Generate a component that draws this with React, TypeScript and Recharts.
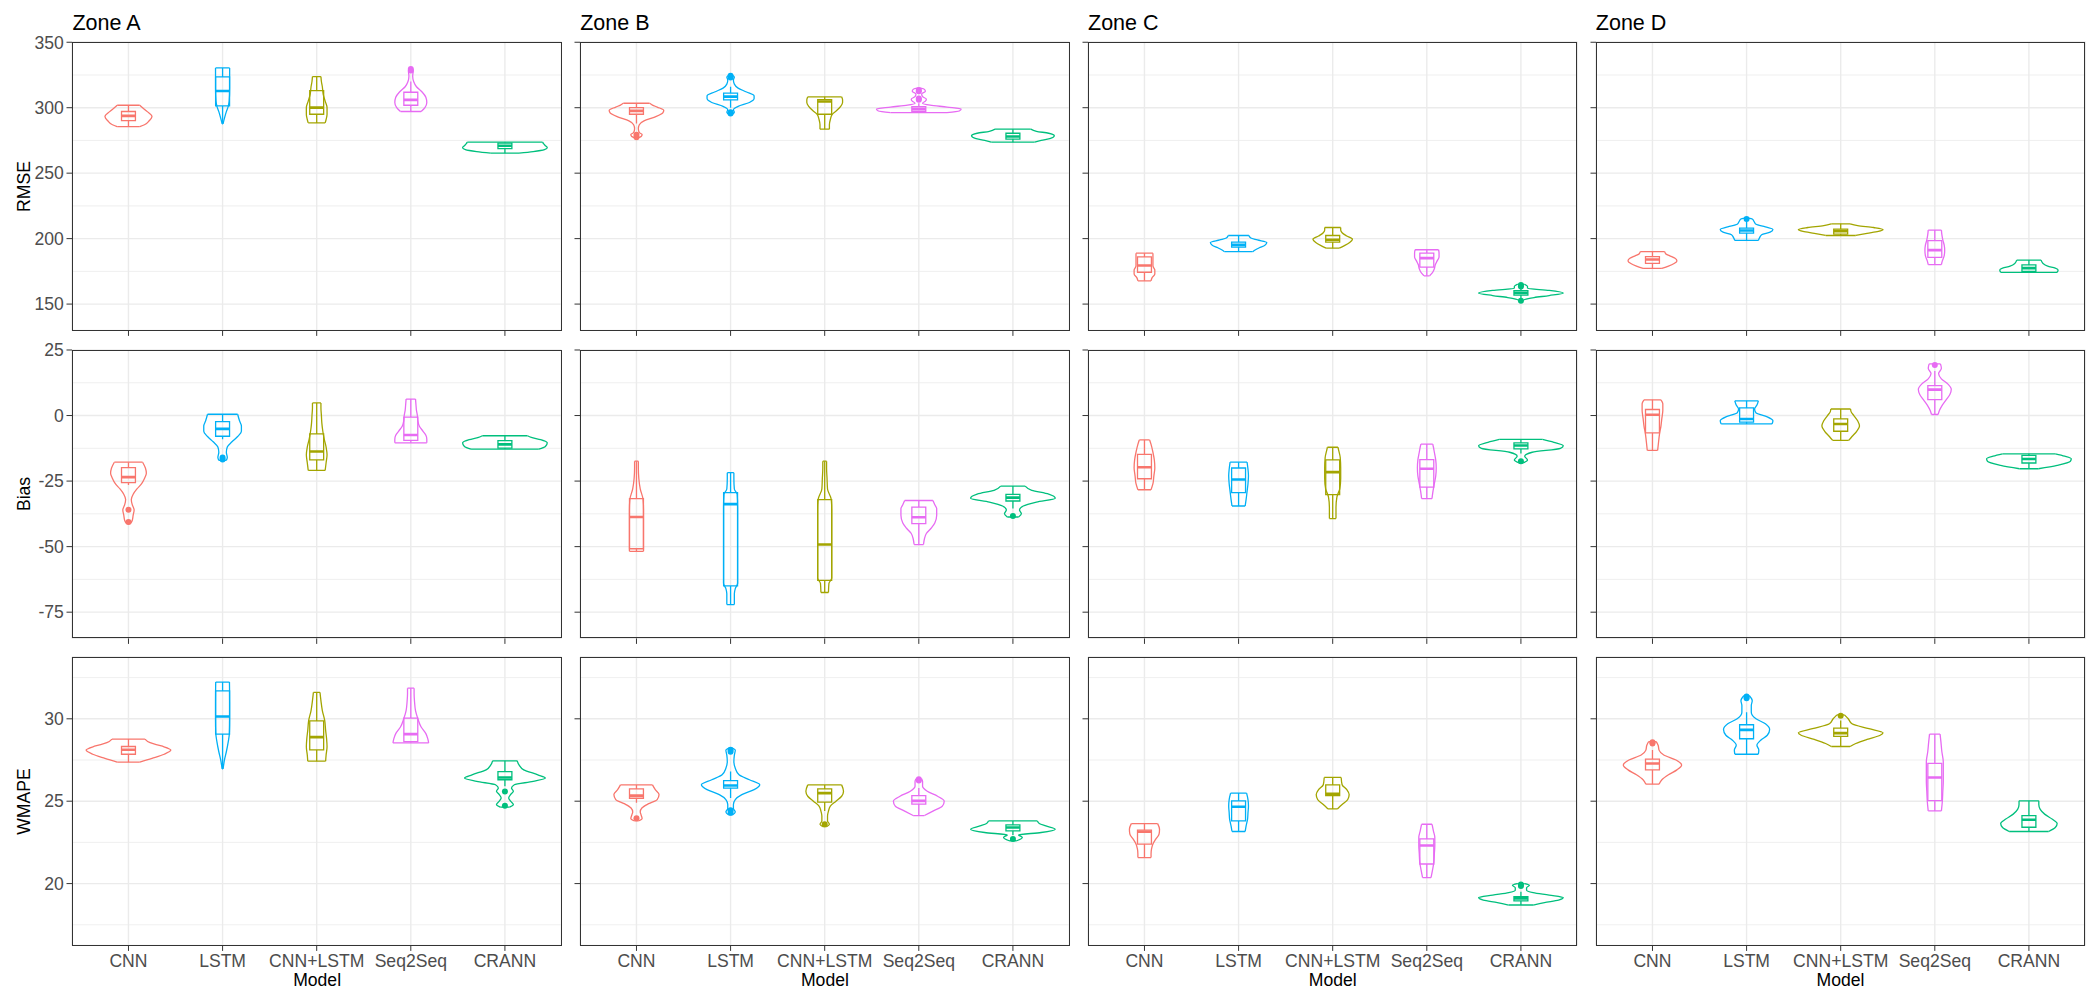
import { ComposedChart, Scatter, XAxis, YAxis, CartesianGrid, ReferenceLine } from "recharts";

const MODELS = ["CNN", "LSTM", "CNN+LSTM", "Seq2Seq", "CRANN"];
const COLORS = ["#F8766D", "#00B0F6", "#A3A500", "#E76BF3", "#00BF7D"];
const ZONES = ["Zone A", "Zone B", "Zone C", "Zone D"];
const METRICS = ["RMSE", "Bias", "WMAPE"];
const Y_DOMAINS = [[129.9, 350.2], [-85, 25], [16.25, 33.75]];
const Y_TICKS = [[150, 200, 250, 300, 350], [-75, -50, -25, 0, 25], [20, 25, 30]];
const Y_MINOR = [[175, 225, 275, 325], [-62.5, -37.5, -12.5, 12.5], [17.5, 22.5, 27.5, 32.5]];

// violin profiles: [value, half width in category units], bottom to top
// boxes: [lower whisker, q1, median, q3, upper whisker]

// ---- RMSE ----
const RMSE_A_VIOLIN = [
  [[285.6, 0.12], [287, 0.17], [290, 0.22], [293.3, 0.25], [297, 0.2], [300, 0.15], [301.9, 0.12]],
  [[287.7, 0.005], [292, 0.02], [297, 0.04], [301, 0.06], [305, 0.07], [315, 0.075], [325, 0.075], [330.4, 0.075]],
  [[288.4, 0.09], [291, 0.1], [295, 0.11], [300, 0.11], [305, 0.09], [310, 0.07], [316, 0.06], [320, 0.05], [323.8, 0.045]],
  [[297.1, 0.11], [300, 0.15], [304, 0.17], [308, 0.16], [312, 0.12], [316, 0.06], [320, 0.03], [324, 0.02], [328, 0.025], [330.2, 0.01]],
  [[265.3, 0.15], [266.5, 0.3], [268, 0.42], [269.5, 0.45], [271, 0.43], [272.5, 0.41], [273.7, 0.4]],
];
const RMSE_A_BOX = [[285.6, 290.2, 293.8, 297.1, 301.9], [287.7, 301.4, 312.8, 323.5, 330.4], [288.4, 295, 300.1, 313.1, 323.8], [297.1, 301.9, 306, 311.8, 320], [265.3, 268.8, 270.9, 272.9, 273.7]];
const RMSE_A_OUT = [[], [], [], [328.4, 329.5], []];

const RMSE_B_VIOLIN = [
  [[276.7, 0.01], [278, 0.05], [279.5, 0.06], [281, 0.03], [284, 0.02], [287, 0.03], [290, 0.08], [293, 0.2], [296, 0.28], [298, 0.29], [300.5, 0.22], [302, 0.17], [303.4, 0.14]],
  [[294.5, 0.01], [296.5, 0.04], [298.5, 0.03], [301, 0.08], [304, 0.2], [307, 0.25], [309, 0.25], [312, 0.17], [315, 0.08], [318, 0.04], [321, 0.03], [323.5, 0.04], [325.1, 0.01]],
  [[283.6, 0.05], [287, 0.05], [291, 0.06], [295, 0.08], [298, 0.13], [301, 0.17], [304, 0.19], [306, 0.19], [308.3, 0.18]],
  [[296.3, 0.3], [297.5, 0.43], [299, 0.45], [300.5, 0.3], [302, 0.12], [303.5, 0.04], [305, 0.07], [306.5, 0.08], [308.5, 0.04], [310.5, 0.03], [312.5, 0.07], [314, 0.06], [314.9, 0.02]],
  [[273.7, 0.23], [275, 0.3], [276.5, 0.4], [278.5, 0.44], [280.5, 0.38], [282, 0.25], [283.6, 0.19]],
];
const RMSE_B_BOX = [[288, 295, 297.6, 300.1, 303.4], [300, 306, 308.5, 311.1, 316], [283.6, 295, 304.7, 306.2, 308.3], [296.3, 297.3, 299.1, 300.9, 303.5], [273.7, 276, 278, 280.5, 283.6]];
const RMSE_B_OUT = [[277.5, 279.3], [295.5, 296.5, 323, 324.5], [], [306, 307, 312.5, 313.5], []];

const RMSE_C_VIOLIN = [
  [[167.8, 0.07], [170, 0.08], [173, 0.11], [176, 0.11], [179, 0.09], [183, 0.09], [186, 0.09], [188.9, 0.09]],
  [[190, 0.15], [191.5, 0.18], [193, 0.22], [195, 0.28], [197, 0.3], [199, 0.2], [200.5, 0.13], [202.4, 0.11]],
  [[192.7, 0.07], [194.5, 0.12], [197, 0.18], [199.5, 0.21], [202, 0.15], [204.5, 0.1], [206.5, 0.085], [208.5, 0.085]],
  [[171.6, 0.03], [174, 0.06], [177, 0.08], [180, 0.09], [183, 0.11], [186, 0.13], [189, 0.13], [191.5, 0.125]],
  [[152, 0.01], [153.5, 0.04], [155, 0.14], [156.5, 0.3], [158.5, 0.45], [160.5, 0.3], [162, 0.07], [163.5, 0.07], [165, 0.04]],
];
const RMSE_C_BOX = [[167.8, 174.3, 179.5, 186, 188.9], [190, 193.5, 195.2, 197.3, 202.4], [192.7, 197.3, 199.1, 202.4, 208.5], [171.6, 178.3, 185.1, 188.9, 191.5], [154.5, 156.8, 158.5, 160.2, 161.5]];
const RMSE_C_OUT = [[], [], [], [], [152.5, 163.5, 164.5]];

const RMSE_D_VIOLIN = [
  [[177.3, 0.1], [179, 0.17], [181, 0.23], [183, 0.26], [185, 0.24], [187, 0.18], [188.5, 0.14], [190, 0.13]],
  [[198.6, 0.125], [201, 0.14], [203, 0.16], [205, 0.25], [207, 0.28], [209, 0.2], [211, 0.1], [213, 0.08], [215, 0.06], [215.6, 0.02]],
  [[202.4, 0.16], [204, 0.28], [205.5, 0.4], [207, 0.45], [208.5, 0.35], [210, 0.18], [211.3, 0.1]],
  [[180.1, 0.07], [183, 0.08], [187, 0.1], [191, 0.105], [195, 0.1], [199, 0.085], [203, 0.075], [206.5, 0.07]],
  [[174.2, 0.3], [176, 0.31], [177.5, 0.28], [179, 0.2], [181, 0.15], [183.6, 0.13]],
];
const RMSE_D_BOX = [[177.3, 181.1, 184.1, 186.2, 190], [198.6, 204.2, 206.2, 208, 213], [202.4, 203.5, 205.7, 207.3, 211.3], [180.1, 185.7, 191.2, 198.4, 206.5], [174.2, 174.9, 177.5, 180, 183.6]];
const RMSE_D_OUT = [[], [215], [], [], []];

// ---- Bias ----
const BIAS_A_VIOLIN = [
  [[-41.2, 0.02], [-40, 0.04], [-38, 0.05], [-36, 0.06], [-34, 0.04], [-32, 0.03], [-30, 0.05], [-28, 0.09], [-26, 0.14], [-24, 0.17], [-22, 0.19], [-20, 0.18], [-17.8, 0.15]],
  [[-17.1, 0.04], [-16, 0.05], [-14, 0.04], [-12, 0.05], [-10, 0.1], [-8, 0.16], [-6, 0.2], [-4, 0.2], [-2, 0.18], [0.5, 0.16]],
  [[-20.9, 0.09], [-18, 0.1], [-15, 0.11], [-12, 0.1], [-9, 0.08], [-6, 0.065], [-3, 0.055], [0, 0.05], [3, 0.045], [4.8, 0.045]],
  [[-10.4, 0.17], [-9, 0.17], [-7.5, 0.16], [-6, 0.13], [-4, 0.09], [-2, 0.075], [0, 0.07], [2, 0.06], [4, 0.055], [6.3, 0.05]],
  [[-12.8, 0.36], [-11.8, 0.43], [-10.4, 0.45], [-9.2, 0.38], [-8.3, 0.28], [-7.7, 0.24]],
];
const BIAS_A_BOX = [[-26.5, -25.6, -23.5, -19.9, -17.8], [-9, -7.9, -5.1, -2.3, 0.5], [-20.9, -16.9, -13.7, -7, 4.8], [-10.4, -9.5, -7.4, -0.6, 6.3], [-12.8, -12.4, -11, -9.6, -7.7]];
const BIAS_A_OUT = [[-35.9, -40.6], [-16, -16.8], [], [], []];

const BIAS_B_VIOLIN = [
  [[-51.8, 0.075], [-48, 0.075], [-44, 0.075], [-40, 0.075], [-36, 0.075], [-32, 0.07], [-28, 0.04], [-24, 0.025], [-20, 0.02], [-17.4, 0.02]],
  [[-72.1, 0.04], [-68, 0.04], [-66, 0.05], [-64, 0.075], [-50, 0.075], [-35, 0.075], [-30, 0.07], [-28, 0.04], [-24, 0.035], [-21.8, 0.035]],
  [[-67.5, 0.04], [-64, 0.045], [-62, 0.075], [-50, 0.075], [-36, 0.075], [-32, 0.07], [-28, 0.03], [-24, 0.025], [-20, 0.02], [-17.4, 0.02]],
  [[-49.2, 0.05], [-47, 0.06], [-45, 0.08], [-43, 0.13], [-41, 0.17], [-38, 0.19], [-35.5, 0.19], [-34, 0.17], [-32.4, 0.15]],
  [[-38.7, 0.06], [-37.5, 0.09], [-36, 0.07], [-34.5, 0.11], [-33, 0.25], [-31.5, 0.45], [-30, 0.38], [-28.5, 0.2], [-26.9, 0.13]],
];
const BIAS_B_BOX = [[-51.8, -50.8, -38.7, -31.7, -17.4], [-72.1, -65, -33.8, -29.4, -21.8], [-67.5, -62.9, -49.2, -32.1, -17.4], [-49.2, -41.2, -38.8, -34.9, -32.4], [-35.5, -32.6, -31.3, -30.1, -26.9]];
const BIAS_B_OUT = [[], [], [], [], [-38.3]];

const BIAS_C_VIOLIN = [
  [[-28.3, 0.07], [-26, 0.09], [-23, 0.1], [-20, 0.11], [-17, 0.105], [-14, 0.09], [-11, 0.07], [-9.3, 0.055]],
  [[-34.5, 0.07], [-32, 0.08], [-29, 0.09], [-26, 0.1], [-23, 0.105], [-20.5, 0.1], [-17.8, 0.09]],
  [[-39.3, 0.035], [-35, 0.035], [-31, 0.045], [-28, 0.075], [-24, 0.085], [-20, 0.085], [-16, 0.08], [-13.5, 0.065], [-12.1, 0.056]],
  [[-31.7, 0.055], [-29, 0.065], [-26, 0.08], [-23, 0.095], [-20, 0.1], [-17, 0.095], [-14, 0.08], [-12, 0.07], [-10.9, 0.063]],
  [[-18.1, 0.02], [-17, 0.07], [-15.5, 0.04], [-14, 0.12], [-12.5, 0.42], [-11.5, 0.45], [-10.2, 0.35], [-9.1, 0.23]],
];
const BIAS_C_BOX = [[-28.3, -24.1, -19.7, -14.8, -9.3], [-34.5, -29.4, -24.4, -20, -17.8], [-39.3, -30.2, -21.6, -16.9, -12.1], [-31.7, -27.3, -20.3, -16.8, -10.9], [-14.5, -12.7, -11.4, -10.4, -9.1]];
const BIAS_C_OUT = [[], [], [], [], [-17.4]];

const BIAS_D_VIOLIN = [
  [[-13.3, 0.055], [-10, 0.065], [-7, 0.075], [-4, 0.09], [-1, 0.1], [2, 0.11], [4.5, 0.11], [6, 0.09]],
  [[-3.2, 0.27], [-2, 0.28], [-0.5, 0.22], [1, 0.1], [2.5, 0.085], [4, 0.11], [5.6, 0.125]],
  [[-9.5, 0.085], [-8, 0.12], [-6, 0.17], [-4, 0.2], [-2, 0.18], [0, 0.14], [1.5, 0.11], [2.5, 0.105]],
  [[0.4, 0.035], [2, 0.05], [4, 0.08], [6, 0.12], [8, 0.16], [10, 0.175], [12, 0.14], [14, 0.07], [16, 0.04], [18, 0.07], [19.7, 0.06]],
  [[-20.3, 0.1], [-19, 0.3], [-17.5, 0.44], [-16.5, 0.45], [-15.5, 0.38], [-14.6, 0.28]],
];
const BIAS_D_BOX = [[-13.3, -6.6, 0.3, 2.3, 6], [-3.2, -2.5, -1.3, 2.9, 5.6], [-9.5, -6, -3.2, -1.3, 2.5], [0.4, 6.1, 9.9, 11.4, 17], [-20.3, -18.1, -16.6, -15.2, -14.6]];
const BIAS_D_OUT = [[], [], [], [19.3], []];

// ---- WMAPE ----
const WMAPE_A_VIOLIN = [
  [[27.37, 0.12], [27.6, 0.25], [27.85, 0.38], [28.1, 0.45], [28.35, 0.35], [28.55, 0.23], [28.77, 0.175]],
  [[26.96, 0.005], [27.5, 0.02], [28, 0.04], [28.6, 0.06], [29.1, 0.072], [30, 0.075], [31, 0.075], [32.23, 0.073]],
  [[27.43, 0.095], [27.8, 0.1], [28.3, 0.11], [28.8, 0.105], [29.3, 0.095], [29.9, 0.085], [30.5, 0.06], [31.1, 0.045], [31.6, 0.035]],
  [[28.54, 0.19], [28.8, 0.18], [29.1, 0.16], [29.5, 0.11], [30, 0.075], [30.5, 0.05], [31, 0.04], [31.5, 0.035], [31.86, 0.035]],
  [[24.64, 0.05], [24.8, 0.09], [25, 0.06], [25.2, 0.04], [25.4, 0.06], [25.6, 0.09], [25.8, 0.07], [26, 0.1], [26.2, 0.3], [26.4, 0.43], [26.6, 0.35], [26.9, 0.2], [27.2, 0.15], [27.45, 0.13]],
];
const WMAPE_A_BOX = [[27.37, 27.85, 28.12, 28.32, 28.77], [26.96, 29.07, 30.14, 31.7, 32.23], [27.43, 28.12, 28.89, 29.88, 31.6], [28.54, 28.62, 29.07, 30.04, 31.86], [25.9, 26.3, 26.44, 26.8, 27.45]];
const WMAPE_A_OUT = [[], [], [], [], [25.59, 24.72]];

const WMAPE_B_VIOLIN = [
  [[23.8, 0.02], [23.95, 0.06], [24.15, 0.05], [24.35, 0.04], [24.6, 0.06], [24.85, 0.13], [25.1, 0.22], [25.4, 0.24], [25.7, 0.2], [25.99, 0.17]],
  [[24.17, 0.02], [24.35, 0.05], [24.55, 0.03], [24.8, 0.03], [25.1, 0.05], [25.4, 0.12], [25.7, 0.25], [26, 0.31], [26.3, 0.2], [26.6, 0.09], [27, 0.05], [27.4, 0.035], [27.8, 0.04], [28.1, 0.05], [28.22, 0.02]],
  [[23.46, 0.02], [23.6, 0.05], [23.8, 0.03], [24.1, 0.03], [24.4, 0.04], [24.7, 0.06], [25, 0.12], [25.3, 0.18], [25.6, 0.2], [25.99, 0.18]],
  [[24.13, 0.06], [24.4, 0.15], [24.7, 0.25], [25, 0.27], [25.3, 0.2], [25.6, 0.09], [25.9, 0.04], [26.2, 0.04], [26.36, 0.03]],
  [[22.6, 0.04], [22.8, 0.1], [22.95, 0.06], [23.1, 0.3], [23.3, 0.45], [23.5, 0.35], [23.65, 0.28], [23.8, 0.26]],
];
const WMAPE_B_BOX = [[24.9, 25.18, 25.34, 25.75, 25.99], [25.2, 25.79, 25.95, 26.25, 26.8], [24.4, 24.94, 25.49, 25.75, 25.99], [24.13, 24.82, 25.02, 25.34, 25.8], [22.95, 23.2, 23.4, 23.56, 23.8]];
const WMAPE_B_OUT = [[23.97], [24.3, 24.45, 28, 28.12], [23.6], [26.25, 26.33], [22.7]];

const WMAPE_C_VIOLIN = [
  [[21.58, 0.07], [21.8, 0.07], [22.1, 0.075], [22.4, 0.09], [22.7, 0.12], [23, 0.155], [23.3, 0.16], [23.64, 0.14]],
  [[23.16, 0.07], [23.5, 0.08], [23.9, 0.095], [24.3, 0.1], [24.7, 0.105], [25.1, 0.1], [25.49, 0.085]],
  [[24.53, 0.05], [24.8, 0.1], [25.1, 0.16], [25.4, 0.175], [25.7, 0.15], [26, 0.1], [26.44, 0.09]],
  [[20.36, 0.045], [20.8, 0.06], [21.3, 0.075], [21.8, 0.08], [22.3, 0.085], [22.8, 0.085], [23.2, 0.07], [23.6, 0.056]],
  [[18.7, 0.13], [18.85, 0.25], [19, 0.4], [19.15, 0.45], [19.3, 0.3], [19.45, 0.13], [19.6, 0.06], [19.75, 0.06], [19.9, 0.09], [20, 0.04]],
];
const WMAPE_C_BOX = [[21.58, 22.39, 23.15, 23.24, 23.64], [23.16, 23.8, 24.66, 25.02, 25.49], [24.53, 25.34, 25.45, 25.99, 26.44], [20.36, 21.19, 22.31, 22.71, 23.6], [18.7, 18.95, 19.1, 19.21, 19.5]];
const WMAPE_C_OUT = [[], [], [], [], [19.85, 19.95]];

const WMAPE_D_VIOLIN = [
  [[26.03, 0.07], [26.3, 0.1], [26.6, 0.17], [26.9, 0.26], [27.2, 0.31], [27.5, 0.25], [27.8, 0.12], [28.1, 0.07], [28.4, 0.06], [28.62, 0.04]],
  [[27.85, 0.125], [28.1, 0.13], [28.4, 0.11], [28.7, 0.15], [29, 0.22], [29.35, 0.245], [29.7, 0.2], [30, 0.1], [30.4, 0.05], [30.8, 0.05], [31.1, 0.06], [31.4, 0.03]],
  [[28.32, 0.1], [28.5, 0.16], [28.75, 0.28], [29, 0.42], [29.15, 0.45], [29.4, 0.3], [29.7, 0.12], [30, 0.08], [30.24, 0.04]],
  [[24.41, 0.07], [25, 0.08], [25.6, 0.085], [26.2, 0.09], [26.8, 0.09], [27.4, 0.09], [28, 0.075], [28.6, 0.065], [29.07, 0.056]],
  [[23.16, 0.21], [23.4, 0.28], [23.65, 0.3], [23.9, 0.25], [24.2, 0.17], [24.5, 0.12], [24.8, 0.105], [25.02, 0.105]],
];
const WMAPE_D_BOX = [[26.03, 26.9, 27.29, 27.55, 28.1], [27.85, 28.79, 29.33, 29.64, 30.4], [28.32, 28.93, 29.13, 29.43, 29.9], [24.41, 25.04, 26.44, 27.3, 29.07], [23.16, 23.42, 23.87, 24.13, 25.02]];
const WMAPE_D_OUT = [[28.5, 28.58], [31.25, 31.35], [30.18], [], []];

const VIOLINS = [
  [RMSE_A_VIOLIN, RMSE_B_VIOLIN, RMSE_C_VIOLIN, RMSE_D_VIOLIN],
  [BIAS_A_VIOLIN, BIAS_B_VIOLIN, BIAS_C_VIOLIN, BIAS_D_VIOLIN],
  [WMAPE_A_VIOLIN, WMAPE_B_VIOLIN, WMAPE_C_VIOLIN, WMAPE_D_VIOLIN],
];
const BOXES = [
  [RMSE_A_BOX, RMSE_B_BOX, RMSE_C_BOX, RMSE_D_BOX],
  [BIAS_A_BOX, BIAS_B_BOX, BIAS_C_BOX, BIAS_D_BOX],
  [WMAPE_A_BOX, WMAPE_B_BOX, WMAPE_C_BOX, WMAPE_D_BOX],
];
const OUTLIERS = [
  [RMSE_A_OUT, RMSE_B_OUT, RMSE_C_OUT, RMSE_D_OUT],
  [BIAS_A_OUT, BIAS_B_OUT, BIAS_C_OUT, BIAS_D_OUT],
  [WMAPE_A_OUT, WMAPE_B_OUT, WMAPE_C_OUT, WMAPE_D_OUT],
];

const FONT = "'Liberation Sans', Arial, sans-serif";
const PLOT_LEFT0 = 72.4;
const COL_STEP = 507.8;
const PLOT_W = 489.4;
const PLOT_TOP0 = 42.3;
const ROW_STEP = 307.5;
const PLOT_H = 288.4;
const Y_AXIS_W = 60;
const X_AXIS_H = 30;
const M_TOP = 14;
const BOX_HALF = 0.074;
const LINE_W = 1.3;

const noDot = () => <g />;

// one polyline drawn by a Scatter series through the chart scales
function path(key: string, pts: { x: number; y: number }[], color: string, width: number, joint: any = "linear") {
  return (
    <Scatter
      key={key}
      data={pts}
      fill="none"
      line={{ stroke: color, strokeWidth: width, fill: "none" }}
      lineType="joint"
      lineJointType={joint}
      shape={noDot}
      legendType="none"
      isAnimationActive={false}
    />
  );
}

function Panel({ row, col }: { row: number; col: number }) {
  const plotLeft = PLOT_LEFT0 + col * COL_STEP;
  const plotTop = PLOT_TOP0 + row * ROW_STEP;
  const marks: any[] = [];

  VIOLINS[row][col].forEach((prof, i) => {
    const c = i + 1;
    const color = COLORS[i];
    const b = prof[0];
    const t = prof[prof.length - 1];
    marks.push(path(`vl${i}`, prof.map(([y, w]) => ({ x: c - w, y })), color, LINE_W, "monotoneY"));
    marks.push(path(`vr${i}`, prof.map(([y, w]) => ({ x: c + w, y })), color, LINE_W, "monotoneY"));
    marks.push(path(`vb${i}`, [{ x: c - b[1], y: b[0] }, { x: c + b[1], y: b[0] }], color, LINE_W));
    marks.push(path(`vt${i}`, [{ x: c - t[1], y: t[0] }, { x: c + t[1], y: t[0] }], color, LINE_W));

    const [lo, q1, med, q3, hi] = BOXES[row][col][i];
    marks.push(
      path(
        `bx${i}`,
        [
          { x: c, y: lo }, { x: c, y: q1 }, { x: c - BOX_HALF, y: q1 }, { x: c - BOX_HALF, y: q3 },
          { x: c, y: q3 }, { x: c, y: hi }, { x: c, y: q3 }, { x: c + BOX_HALF, y: q3 },
          { x: c + BOX_HALF, y: q1 }, { x: c, y: q1 },
        ],
        color,
        LINE_W
      )
    );
    marks.push(path(`md${i}`, [{ x: c - BOX_HALF, y: med }, { x: c + BOX_HALF, y: med }], color, 2.6));

    const outs = OUTLIERS[row][col][i];
    if (outs.length) {
      marks.push(
        <Scatter
          key={`o${i}`}
          data={outs.map((v) => ({ x: c, y: v }))}
          shape={(p: any) => <circle cx={p.cx} cy={p.cy} r={3} fill={color} />}
          legendType="none"
          isAnimationActive={false}
        />
      );
    }
  });

  return (
    <div style={{ position: "absolute", left: plotLeft - Y_AXIS_W, top: plotTop - M_TOP }}>
      <ComposedChart
        width={Y_AXIS_W + PLOT_W + 2}
        height={M_TOP + PLOT_H + X_AXIS_H}
        margin={{ top: M_TOP, right: 2, bottom: 0, left: 0 }}
      >
        <CartesianGrid stroke="#EBEBEB" strokeWidth={1.4} />
        {Y_MINOR[row].map((v) => (
          <ReferenceLine key={`mn${v}`} y={v} stroke="#EBEBEB" strokeWidth={0.8} />
        ))}
        <XAxis
          type="number"
          dataKey="x"
          domain={[0.4, 5.6]}
          ticks={[1, 2, 3, 4, 5]}
          interval={0}
          allowDataOverflow
          axisLine={false}
          tickLine={{ stroke: "#333333" }}
          tickSize={5.5}
          tickMargin={3.4}
          height={X_AXIS_H}
          tick={{ fill: "#4D4D4D", fontSize: 17.6, fontFamily: FONT }}
          tickFormatter={(v: number) => (row === 2 ? MODELS[v - 1] : "")}
        />
        <YAxis
          type="number"
          dataKey="y"
          domain={Y_DOMAINS[row]}
          ticks={Y_TICKS[row]}
          interval={0}
          allowDataOverflow
          axisLine={false}
          tickLine={{ stroke: "#333333" }}
          tickSize={5.5}
          tickMargin={2.6}
          width={Y_AXIS_W}
          tick={{ fill: "#4D4D4D", fontSize: 17.6, fontFamily: FONT }}
          tickFormatter={(v: number) => (col === 0 ? String(v) : "")}
        />
        {marks}
      </ComposedChart>
      <div
        style={{
          position: "absolute",
          left: Y_AXIS_W,
          top: M_TOP,
          width: PLOT_W,
          height: PLOT_H,
          border: "1px solid #333333",
          boxSizing: "border-box",
          pointerEvents: "none",
        }}
      />
    </div>
  );
}

export default function App() {
  return (
    <div style={{ position: "absolute", left: 0, top: 0, width: 2100, height: 1005, background: "#fff", fontFamily: FONT }}>
      {METRICS.map((_, r) => ZONES.map((_, c) => <Panel key={`${r}-${c}`} row={r} col={c} />))}
      <svg width={2100} height={1005} style={{ position: "absolute", left: 0, top: 0, pointerEvents: "none" }}>
        {ZONES.map((z, c) => (
          <text key={z} x={PLOT_LEFT0 + c * COL_STEP} y={30} fontSize={21.5} fill="#000" fontFamily={FONT}>
            {z}
          </text>
        ))}
        {METRICS.map((m, r) => (
          <text
            key={m}
            transform={`translate(29.5 ${PLOT_TOP0 + r * ROW_STEP + PLOT_H / 2}) rotate(-90)`}
            textAnchor="middle"
            fontSize={17.6}
            fill="#000"
            fontFamily={FONT}
          >
            {m}
          </text>
        ))}
        {ZONES.map((z, c) => (
          <text
            key={`t${z}`}
            x={PLOT_LEFT0 + c * COL_STEP + PLOT_W / 2}
            y={986}
            textAnchor="middle"
            fontSize={17.6}
            fill="#000"
            fontFamily={FONT}
          >
            Model
          </text>
        ))}
      </svg>
    </div>
  );
}
